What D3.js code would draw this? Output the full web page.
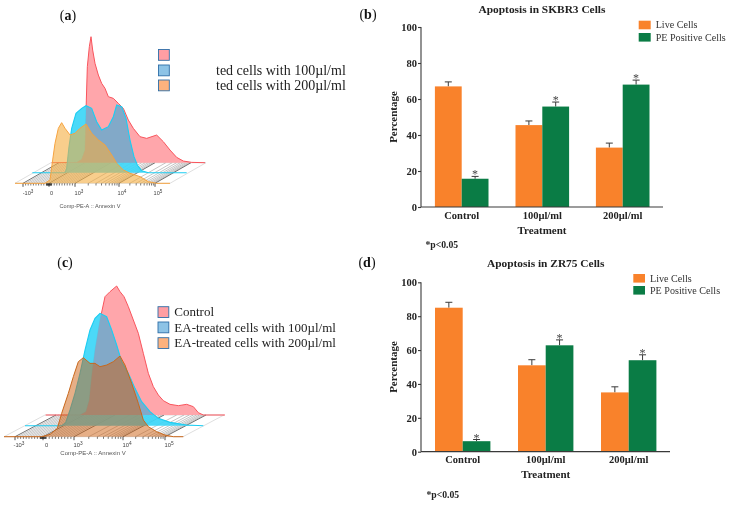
<!DOCTYPE html>
<html><head><meta charset="utf-8">
<script src="https://cdnjs.cloudflare.com/ajax/libs/d3/7.8.5/d3.min.js"></script>
<style>html,body{margin:0;padding:0;background:#fff}svg{display:block;filter:blur(.35px)}</style>
</head><body><svg id="c" width="729" height="505"></svg>
<script>
// ---- bar chart data ----
const treatments = ["Control","100µl/ml","200µl/ml"];
const barSeries = ["Live Cells","PE Positive Cells"];
const skbr3Live = [67,45.5,33];
const skbr3LiveErr = [2.5,2.3,2.5];
const skbr3PE = [15.7,55.8,68];
const skbr3PEErr = [1.3,2.5,2.5];
const zr75Live = [85,51,35];
const zr75LiveErr = [3.2,3.3,3.3];
const zr75PE = [6.2,62.8,54];
const zr75PEErr = [1,3.2,3.2];
const yTicks = [0,20,40,60,80,100];
// ---- histogram data: [channel, count] ----
const aControl = [[155,0],[230,1],[245,10],[255,38],[259,188],[262,288],[268,348],[273,378],[278,338],[285,298],[295,263],[305,238],[315,223],[325,198],[340,193],[355,178],[370,163],[385,128],[400,103],[420,78],[440,73],[470,83],[490,63],[510,38],[530,16],[550,5],[575,1],[615,0]];
const a100 = [[97,0],[195,0],[200,13],[207,78],[215,133],[228,178],[245,193],[258,201],[275,193],[290,153],[305,128],[325,138],[340,168],[350,203],[365,198],[378,163],[390,98],[402,48],[412,23],[425,6],[445,0],[560,0]];
const a200 = [[45,0],[135,0],[150,10],[158,70],[165,120],[175,165],[185,182],[195,165],[210,145],[225,150],[240,165],[258,178],[275,150],[295,130],[315,115],[335,85],[350,60],[370,40],[390,30],[420,20],[445,5],[470,0],[510,0]];
const cControl = [[137,0],[240,0],[258,10],[268,45],[275,115],[285,195],[300,285],[315,355],[330,370],[350,387],[360,370],[372,355],[385,325],[400,285],[415,245],[430,185],[445,125],[460,85],[475,60],[490,43],[510,32],[535,28],[560,32],[580,25],[595,7],[610,0],[675,0]];
const c100 = [[75,0],[185,0],[197,9],[210,47],[225,97],[240,157],[255,227],[270,287],[285,322],[300,337],[320,327],[335,287],[350,242],[365,192],[385,157],[405,112],[425,72],[450,42],[475,22],[510,10],[560,2],[610,0]];
const c200 = [[12,0],[125,0],[150,7],[172,25],[185,70],[205,130],[220,180],[235,225],[250,237],[270,220],[285,220],[300,210],[320,215],[340,225],[360,242],[375,215],[395,160],[415,100],[430,50],[445,30],[470,15],[495,5],[520,0],[550,0]];
const legendLabelsC = ["Control","EA-treated cells with 100µl/ml","EA-treated cells with 200µl/ml"];
const legendLabelsA = ["","ted cells with 100µl/ml","ted cells with 200µl/ml"];
const flowDecades = [-1000,0,1000,10000,100000];

const svg = d3.select("#c");
const SERIF = "'Liberation Serif',serif", SANS = "'Liberation Sans',Arial,sans-serif";
const ORANGE="#f9822b", GREEN="#0a7c45", INK="#3a3a3a";

function txt(g,x,y,s,o={}){
  return g.append("text").attr("x",x).attr("y",y).text(s)
   .attr("font-family",o.f||SERIF).attr("font-size",o.s||11)
   .attr("font-weight",o.w||"normal").attr("fill",o.c||"#222")
   .attr("text-anchor",o.a||"start");
}
function panelLabel(x,y,l){
  const t=svg.append("text").attr("x",x).attr("y",y).attr("text-anchor","middle")
    .attr("font-family",SERIF).attr("font-size",14).attr("fill","#111");
  t.append("tspan").text("(");t.append("tspan").attr("font-weight","bold").text(l);t.append("tspan").text(")");
}

// ---- bars ----
function barChart(o){
  const g=svg.append("g");
  const y=d3.scaleLinear([0,100],[o.y0,o.y100]);
  const ya=d3.axisLeft(y).tickValues(yTicks).tickSize(3).tickPadding(1);
  const ag=g.append("g").attr("transform",`translate(${o.ax},0)`).call(ya);
  ag.selectAll("text").attr("font-family",SERIF).attr("font-weight","bold").attr("font-size",10.5).attr("fill","#222");
  ag.selectAll("line,path").attr("stroke",INK).attr("stroke-width",1.1);
  ag.select("path").attr("d",`M0,${y(100)}V${y(0)}`);
  treatments.forEach((t,i)=>{
    const c=o.centers[i], w=o.bw;
    [[o.live,o.liveErr,ORANGE,c-w,false],[o.pe,o.peErr,GREEN,c,true]].forEach(([v,e,col,bx,star])=>{
      const mid=bx+w/2, top=y(v[i]+e[i]);
      g.append("path").attr("d",`M${mid},${y(v[i])}V${top}M${mid-3.5},${top}H${mid+3.5}`).attr("stroke",INK).attr("stroke-width",1).attr("fill","none");
      g.append("rect").attr("x",bx).attr("y",y(v[i])).attr("width",w).attr("height",y(0)-y(v[i])).attr("fill",col);
      if(star) txt(g,mid,top+2,"*",{a:"middle",s:12,c:"#444"});
    });
    txt(g,c,o.tickY,t,{a:"middle",w:"bold",s:10.5});
  });
  g.append("line").attr("x1",o.ax).attr("x2",o.xEnd).attr("y1",y(0)).attr("y2",y(0)).attr("stroke",INK).attr("stroke-width",1.2);
  txt(g,o.titleX,o.titleY,o.title,{a:"middle",w:"bold",s:11.4});
  txt(g,o.titleX,o.treatY,"Treatment",{a:"middle",w:"bold",s:11});
  txt(g,o.pX,o.pY,"*p<0.05",{w:"bold",s:9.7});
  g.append("text").attr("transform",`translate(397,${(o.y0+o.y100)/2}) rotate(-90)`).attr("text-anchor","middle")
    .attr("font-family",SERIF).attr("font-weight","bold").attr("font-size",11).attr("fill","#222").text("Percentage");
  barSeries.forEach((s,i)=>{
    g.append("rect").attr("x",o.lx).attr("y",o.ly[i]).attr("width",o.lw).attr("height",8.6).attr("fill",i?GREEN:ORANGE);
    txt(g,o.lx+o.lw+5,o.ly[i]+7.6,s,{s:10.1,c:"#333"});
  });
}
barChart({y0:207,y100:27,ax:421,xEnd:663,centers:[461.7,542.3,622.7],bw:26.8,live:skbr3Live,liveErr:skbr3LiveErr,pe:skbr3PE,peErr:skbr3PEErr,
  tickY:218.5,title:"Apoptosis in SKBR3 Cells",titleX:542,titleY:13,treatY:234,pX:425.5,pY:248,lx:638.7,lw:12,ly:[20.7,33]});
barChart({y0:451.7,y100:282.3,ax:421,xEnd:670,centers:[462.7,545.7,628.7],bw:27.7,live:zr75Live,liveErr:zr75LiveErr,pe:zr75PE,peErr:zr75PEErr,
  tickY:462.5,title:"Apoptosis in ZR75 Cells",titleX:545.7,titleY:266.7,treatY:477.5,pX:426.5,pY:497.5,lx:633.3,lw:11.7,ly:[274,286]});

// ---- flow histograms ----
let uid=0;
function flow(o){
  const g=svg.append("g");
  const xh=d3.scaleLinear([0,1080],[0,360]);
  const yh=b=>d3.scaleLinear([0,540],[b,b-180]);
  const biex=d3.scaleLinear([-1,0,1,2,3],o.decadeX);
  const tr=v=>Math.abs(v)<=1000?v/1000:Math.sign(v)*(Math.log10(Math.abs(v))-2);
  const px=v=>biex(tr(v));
  const minor=[];
  d3.range(-900,1000,100).forEach(v=>{if(v)minor.push(v)});
  [1e3,1e4].forEach(d=>d3.range(2,10).forEach(k=>minor.push(k*d)));
  const fine=d3.range(-90,100,15);
  const [bt,bm,bb]=o.bases, dx=o.depth;
  const fl=g.append("g").attr("fill","none");
  fl.append("path").attr("d",`M${o.xL},${bb}L${o.xL+dx},${bt}H${o.xR+dx}L${o.xR},${bb}Z`).attr("stroke","#c8c8c8").attr("stroke-width",.6).attr("fill","#fff");
  minor.forEach(v=>fl.append("line").attr("x1",px(v)).attr("y1",bb).attr("x2",px(v)+dx).attr("y2",bt).attr("stroke","#8a8a8a").attr("stroke-width",.5));
  flowDecades.forEach(v=>fl.append("line").attr("x1",px(v)).attr("y1",bb).attr("x2",px(v)+dx).attr("y2",bt).attr("stroke","#333").attr("stroke-width",.7));
  minor.concat(fine).forEach(v=>fl.append("line").attr("x1",px(v)).attr("x2",px(v)).attr("y1",bb).attr("y2",bb+2.2).attr("stroke","#222").attr("stroke-width",.6));
  flowDecades.forEach(v=>fl.append("line").attr("x1",px(v)).attr("x2",px(v)).attr("y1",bb).attr("y2",bb+3.5).attr("stroke","#222").attr("stroke-width",.8));
  const area=(d,b)=>d3.area().x(p=>xh(p[0])).y0(b).y1(p=>yh(b)(p[1]))(d);
  const line=(d,b)=>d3.line().x(p=>xh(p[0])).y(p=>yh(b)(p[1]))(d);
  const id="clip"+(uid++);
  svg.append("defs").append("clipPath").attr("id",id).append("path").attr("d",area(o.red,bt));
  g.append("path").attr("d",area(o.red,bt)).attr("fill","#ffa3a8").attr("fill-opacity",.97);
  g.append("path").attr("d",line(o.red,bt)).attr("fill","none").attr("stroke","#f8545c").attr("stroke-width",1);
  g.append("path").attr("d",area(o.blue,bm)).attr("fill","#3dd6f7").attr("fill-opacity",.93);
  g.append("path").attr("d",area(o.blue,bm)).attr("fill","#82a9c8").attr("clip-path",`url(#${id})`);
  g.append("path").attr("d",line(o.blue,bm)).attr("fill","none").attr("stroke","#1ccdf2").attr("stroke-width",1.1);
  g.append("path").attr("d",area(o.orange,bb)).attr("fill",o.oFill).attr("fill-opacity",o.oAlpha);
  g.append("path").attr("d",line(o.orange,bb)).attr("fill","none").attr("stroke",o.oLine).attr("stroke-width",1);
  const lab=[["-10","3"],["0",""],["10","3"],["10","4"],["10","5"]];
  flowDecades.forEach((v,i)=>{
    const t=g.append("text").attr("x",o.labX[i]).attr("y",o.labY).attr("text-anchor","middle")
      .attr("font-family",SANS).attr("font-size",o.labS).attr("fill","#444");
    t.append("tspan").text(lab[i][0]);
    if(lab[i][1]) t.append("tspan").attr("dy",-2).attr("font-size",o.labS-1).text(lab[i][1]);
  });
  txt(g,o.axX,o.axY,"Comp-PE-A :: Annexin V",{f:SANS,s:o.axS,a:"middle",c:"#555"});
  const cols=["#ff9ea3","#8dc3e6","#fdb27e"];
  cols.forEach((c,i)=>{
    g.append("rect").attr("x",o.lgX).attr("y",o.lgY[i]).attr("width",10.8).attr("height",10.8).attr("fill",c).attr("stroke","#2f6fa8").attr("stroke-width",.9);
    if(o.lgT[i]) txt(g,o.tX,o.tY[i],o.lgT[i],{s:o.tS,c:"#222"});
  });
}
flow({red:aControl,blue:a100,orange:a200,bases:[162.7,172.7,183.3],depth:36,xL:15,xR:170,decadeX:[23,49,75,119,155],
  oFill:"rgb(245,173,63)",oAlpha:.6,oLine:"#f6a340",labX:[28,51.5,79,122,158],labY:195,labS:5.6,axX:90,axY:207.5,axS:5.6,
  lgX:158.5,lgY:[49.5,65,80],lgT:legendLabelsA,tX:216,tY:[60,74.5,90],tS:14});
flow({red:cControl,blue:c100,orange:c200,bases:[415,425.7,436.7],depth:41,xL:4,xR:183,decadeX:[15,43,74,123,165],
  oFill:"rgb(205,95,15)",oAlpha:.5,oLine:"#c9681c",labX:[19,46.5,78,127,169],labY:447,labS:5.8,axX:93,axY:455,axS:6,
  lgX:158,lgY:[306.7,322,337.7],lgT:legendLabelsC,tX:174.3,tY:[315.7,332,347.3],tS:13});

panelLabel(68,20,"a");panelLabel(368,19,"b");panelLabel(65,267,"c");panelLabel(367,267,"d");
</script></body></html>
